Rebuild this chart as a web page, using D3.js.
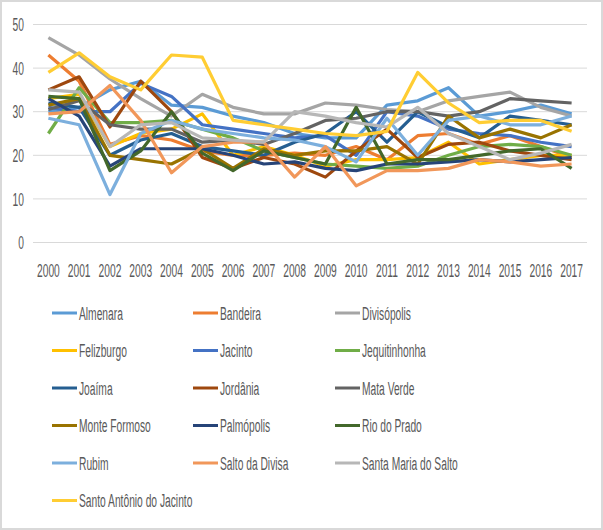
<!DOCTYPE html>
<html>
<head>
<meta charset="utf-8">
<script src="https://cdn.jsdelivr.net/npm/d3@7"></script>
<style>
  body { margin: 0; background: #fff; }
  text { font-family: "Liberation Sans", Arial, sans-serif; fill: #595959; }
</style>
</head>
<body>
<script>
// years on the category axis
var years = ["2000","2001","2002","2003","2004","2005","2006","2007","2008",
             "2009","2010","2011","2012","2013","2014","2015","2016","2017"];
var yTicks = [0, 10, 20, 30, 40, 50];

// series values
var almenara      = [30, 31, 35, 37, 31.5, 31, 29, 27.5, 25, 24, 24, 31.5, 32.5, 35.5, 29, 30, 31.5, 29.5];
var bandeira      = [43, 37, 22.5, 24.5, 23.5, 21, 20, 20, 20.5, 20, 22, 19, 24.5, 25, 22.5, 24.5, 22, 19.5];
var divisopolis   = [47, 43, 37.5, 33, 29, 34, 31, 29.5, 29.5, 32, 31.5, 30.5, 30, 32.5, 33.5, 34.5, 31, 29];
var felizburgo    = [33, 34, 22, 25, 26, 29.5, 20, 22, 20, 17.5, 19, 19, 19.5, 23, 18, 19, 20, 20];
var jacinto       = [31, 30, 30, 36.5, 33.5, 27, 26, 25, 24, 24.5, 20, 30, 29, 26, 25, 24.5, 23, 22];
var jequitinhonha = [25, 35.5, 27.5, 27.5, 28, 26, 24, 21, 19.5, 18, 17.5, 17, 17.5, 20, 22, 22.5, 22, 20];
var joaima        = [32, 31, 20, 23.5, 25, 22, 21, 20, 23, 25, 30, 23, 30, 26.5, 24, 29, 28, 27];
var jordania      = [35, 38, 26.5, 37, 30, 19.5, 17, 19.5, 18, 15, 21, 26, 19.5, 22.5, 23, 21, 20, 19];
var mataVerde     = [30.5, 32.5, 27, 26, 26, 23, 23.5, 22.5, 25, 28, 28.5, 30, 30, 29, 30, 33, 32.5, 32];
var monteFormoso  = [31.5, 33, 20, 19, 18, 21.5, 17, 21.5, 20, 21, 21, 22, 18, 29, 24, 26, 24, 27];
var palmopolis    = [33, 29, 17.5, 21.5, 21.5, 21.5, 20, 18, 18.5, 17, 16.5, 18, 18, 18.5, 19, 18.5, 19, 19.5];
var rioDoPrado    = [33.5, 33, 16.5, 21, 30, 20.5, 16.5, 21, 19.5, 18, 31, 18, 19, 19, 20, 21, 21.5, 17];
var rubim         = [28.5, 27, 11, 25, 28, 26, 25, 24, 23.5, 22, 18.5, 28.5, 20, 28, 29, 27, 27, 29];
var saltoDivisa   = [29.5, 30, 36, 28, 16, 22, 23, 23, 15, 22, 13, 16.5, 16.5, 17, 19, 18.5, 17.5, 18];
var santaMaria    = [35, 34.5, 22, 27, 27.5, 24, 23.5, 23, 30, 29, 27.5, 26.5, 31, 25, 22, 19, 20.5, 22.5];
var santoAntonio  = [39, 43.5, 38, 35, 43, 42.5, 28, 27, 26, 25, 24.5, 25.5, 39, 32, 27.5, 28, 28, 25.5];

var names = ["Almenara", "Bandeira", "Divisópolis", "Felizburgo", "Jacinto", "Jequitinhonha",
             "Joaíma", "Jordânia", "Mata Verde", "Monte Formoso", "Palmópolis", "Rio do Prado",
             "Rubim", "Salto da Divisa", "Santa Maria do Salto", "Santo Antônio do Jacinto"];
var values = [almenara, bandeira, divisopolis, felizburgo, jacinto, jequitinhonha,
              joaima, jordania, mataVerde, monteFormoso, palmopolis, rioDoPrado,
              rubim, saltoDivisa, santaMaria, santoAntonio];
var colors = ["#5B9BD5", "#ED7D31", "#A5A5A5", "#FFC000", "#4472C4", "#70AD47",
              "#255E91", "#9E480E", "#636363", "#997300", "#264478", "#43682B",
              "#7CAFDD", "#F1975A", "#B7B7B7", "#FFCD33"];

var width = 603, height = 530;
var sx = 0.54; // horizontal squeeze of the text, as in the picture

var svg = d3.select("body").append("svg")
    .attr("width", width)
    .attr("height", height);

svg.append("rect")
    .attr("x", 1).attr("y", 1)
    .attr("width", width - 2).attr("height", height - 2)
    .attr("fill", "#fff").attr("stroke", "#D9D9D9").attr("stroke-width", 2);

var x = d3.scalePoint().domain(years).range([33, 587]).padding(0.5);
var y = d3.scaleLinear().domain([0, 50]).range([242.5, 24.5]);

// gridlines
svg.selectAll(".grid").data(yTicks).enter().append("line")
    .attr("class", "grid")
    .attr("x1", 33).attr("x2", 587)
    .attr("y1", function(d) { return y(d); })
    .attr("y2", function(d) { return y(d); })
    .attr("stroke", "#D9D9D9").attr("stroke-width", 1);

// y labels
svg.selectAll(".ylab").data(yTicks).enter().append("text")
    .attr("class", "ylab")
    .attr("transform", function(d) { return "translate(24," + y(d) + ") scale(" + sx + ",1)"; })
    .attr("dy", "0.35em")
    .attr("text-anchor", "end")
    .style("font-size", "19px")
    .text(function(d) { return d; });

// x labels
svg.selectAll(".xlab").data(years).enter().append("text")
    .attr("class", "xlab")
    .attr("transform", function(d) { return "translate(" + x(d) + ",270) scale(" + sx + ",1)"; })
    .attr("dy", "0.35em")
    .attr("text-anchor", "middle")
    .style("font-size", "19px")
    .text(function(d) { return d; });

// lines
var line = d3.line()
    .x(function(d, i) { return x(years[i]); })
    .y(function(d) { return y(d); });

svg.selectAll(".series").data(values).enter().append("path")
    .attr("class", "series")
    .attr("d", line)
    .attr("fill", "none")
    .attr("stroke", function(d, i) { return colors[i]; })
    .attr("stroke-width", 3.2)
    .attr("stroke-linejoin", "round");

// legend, 3 columns
var colX = [52, 193, 335];
var rowY = d3.range(6).map(function(r) { return 313 + r * 37.5; });

var leg = svg.selectAll(".leg").data(names).enter().append("g")
    .attr("class", "leg")
    .attr("transform", function(d, i) { return "translate(" + colX[i % 3] + "," + rowY[Math.floor(i / 3)] + ")"; });

leg.append("line")
    .attr("x1", 0).attr("x2", 25)
    .attr("stroke", function(d, i) { return colors[i]; })
    .attr("stroke-width", 3);

leg.append("text")
    .attr("transform", "translate(27,0) scale(" + sx + ",1)")
    .attr("dy", "0.35em")
    .style("font-size", "19px")
    .text(function(d) { return d; });
</script>
</body>
</html>
